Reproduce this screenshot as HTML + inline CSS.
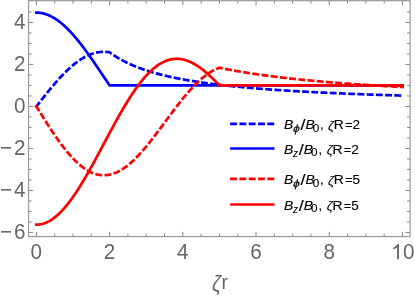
<!DOCTYPE html>
<html><head><meta charset="utf-8"><title>plot</title>
<style>
html,body{margin:0;padding:0;background:#fff;overflow:hidden;}
svg{display:block;font-family:"Liberation Sans",sans-serif;opacity:0.999;will-change:transform;}
</style></head>
<body>
<svg width="415" height="297" viewBox="0 0 415 297">
<rect width="415" height="297" fill="#fff"/>
<g fill="none" stroke-width="2.7" stroke-linejoin="miter" stroke-miterlimit="6" stroke-linecap="square">
<polyline points="36.40,106.43 37.32,105.26 38.23,104.09 39.15,102.92 40.06,101.75 40.98,100.58 41.89,99.42 42.81,98.25 43.72,97.10 44.64,95.94 45.55,94.80 46.47,93.65 47.38,92.52 48.30,91.39 49.21,90.27 50.13,89.15 51.04,88.04 51.96,86.95 52.87,85.86 53.79,84.78 54.70,83.71 55.62,82.65 56.53,81.60 57.45,80.56 58.36,79.54 59.28,78.53 60.19,77.53 61.11,76.54 62.02,75.57 62.94,74.61 63.86,73.67 64.77,72.75 65.69,71.83 66.60,70.94 67.52,70.06 68.43,69.20 69.35,68.35 70.26,67.53 71.18,66.72 72.09,65.93 73.01,65.16 73.92,64.40 74.84,63.67 75.75,62.96 76.67,62.26 77.58,61.59 78.50,60.94 79.41,60.30 80.33,59.69 81.24,59.10 82.16,58.54 83.07,57.99 83.99,57.47 84.90,56.97 85.82,56.49 86.73,56.03 87.65,55.60 88.56,55.19 89.48,54.80 90.40,54.44 91.31,54.10 92.23,53.78 93.14,53.49 94.06,53.22 94.97,52.98 95.89,52.76 96.80,52.56 97.72,52.39 98.63,52.24 99.55,52.11 100.46,52.01 101.38,51.94 102.29,51.89 103.21,51.86 104.12,51.86 105.04,51.88 105.95,51.92 106.87,51.99 107.78,52.08 108.70,52.20 109.61,52.34 110.53,53.00 111.44,53.66 112.36,54.29 113.27,54.91 114.19,55.52 115.11,56.11 116.02,56.69 116.94,57.25 117.85,57.81 118.77,58.35 119.68,58.87 120.60,59.39 121.51,59.90 122.43,60.39 123.34,60.88 124.26,61.35 125.17,61.82 126.09,62.27 127.00,62.72 127.92,63.15 128.83,63.58 129.75,64.00 130.66,64.41 131.58,64.82 132.49,65.22 133.41,65.60 134.32,65.99 135.24,66.36 136.15,66.73 137.07,67.09 137.98,67.44 138.90,67.79 139.81,68.13 140.73,68.47 141.65,68.80 142.56,69.12 143.48,69.44 144.39,69.76 145.31,70.06 146.22,70.37 147.14,70.67 148.05,70.96 148.97,71.25 149.88,71.53 150.80,71.81 151.71,72.08 152.63,72.35 153.54,72.62 154.46,72.88 155.37,73.14 156.29,73.40 157.20,73.65 158.12,73.89 159.03,74.13 159.95,74.37 160.86,74.61 161.78,74.84 162.69,75.07 163.61,75.30 164.52,75.52 165.44,75.74 166.35,75.95 167.27,76.17 168.19,76.38 169.10,76.58 170.02,76.79 170.93,76.99 171.85,77.19 172.76,77.39 173.68,77.58 174.59,77.77 175.51,77.96 176.42,78.15 177.34,78.33 178.25,78.51 179.17,78.69 180.08,78.87 181.00,79.04 181.91,79.21 182.83,79.38 183.74,79.55 184.66,79.72 185.57,79.88 186.49,80.04 187.40,80.20 188.32,80.36 189.23,80.52 190.15,80.67 191.06,80.82 191.98,80.97 192.89,81.12 193.81,81.27 194.73,81.42 195.64,81.56 196.56,81.70 197.47,81.84 198.39,81.98 199.30,82.12 200.22,82.25 201.13,82.39 202.05,82.52 202.96,82.65 203.88,82.78 204.79,82.91 205.71,83.04 206.62,83.16 207.54,83.29 208.45,83.41 209.37,83.53 210.28,83.65 211.20,83.77 212.11,83.89 213.03,84.01 213.94,84.12 214.86,84.24 215.77,84.35 216.69,84.46 217.60,84.57 218.52,84.68 219.44,84.79 220.35,84.90 221.27,85.01 222.18,85.11 223.10,85.22 224.01,85.32 224.93,85.42 225.84,85.52 226.76,85.62 227.67,85.72 228.59,85.82 229.50,85.92 230.42,86.02 231.33,86.11 232.25,86.21 233.16,86.30 234.08,86.40 234.99,86.49 235.91,86.58 236.82,86.67 237.74,86.76 238.65,86.85 239.57,86.94 240.48,87.02 241.40,87.11 242.31,87.20 243.23,87.28 244.14,87.37 245.06,87.45 245.98,87.53 246.89,87.61 247.81,87.70 248.72,87.78 249.64,87.86 250.55,87.94 251.47,88.01 252.38,88.09 253.30,88.17 254.21,88.25 255.13,88.32 256.04,88.40 256.96,88.47 257.87,88.55 258.79,88.62 259.70,88.69 260.62,88.77 261.53,88.84 262.45,88.91 263.36,88.98 264.28,89.05 265.19,89.12 266.11,89.19 267.02,89.26 267.94,89.33 268.85,89.39 269.77,89.46 270.68,89.53 271.60,89.59 272.52,89.66 273.43,89.72 274.35,89.79 275.26,89.85 276.18,89.91 277.09,89.98 278.01,90.04 278.92,90.10 279.84,90.16 280.75,90.22 281.67,90.28 282.58,90.34 283.50,90.40 284.41,90.46 285.33,90.52 286.24,90.58 287.16,90.64 288.07,90.69 288.99,90.75 289.90,90.81 290.82,90.86 291.73,90.92 292.65,90.97 293.56,91.03 294.48,91.08 295.39,91.14 296.31,91.19 297.22,91.25 298.14,91.30 299.06,91.35 299.97,91.40 300.89,91.46 301.80,91.51 302.72,91.56 303.63,91.61 304.55,91.66 305.46,91.71 306.38,91.76 307.29,91.81 308.21,91.86 309.12,91.91 310.04,91.96 310.95,92.00 311.87,92.05 312.78,92.10 313.70,92.15 314.61,92.19 315.53,92.24 316.44,92.29 317.36,92.33 318.27,92.38 319.19,92.42 320.10,92.47 321.02,92.52 321.93,92.56 322.85,92.60 323.76,92.65 324.68,92.69 325.60,92.74 326.51,92.78 327.43,92.82 328.34,92.86 329.26,92.91 330.17,92.95 331.09,92.99 332.00,93.03 332.92,93.07 333.83,93.11 334.75,93.16 335.66,93.20 336.58,93.24 337.49,93.28 338.41,93.32 339.32,93.36 340.24,93.40 341.15,93.43 342.07,93.47 342.98,93.51 343.90,93.55 344.81,93.59 345.73,93.63 346.64,93.66 347.56,93.70 348.47,93.74 349.39,93.78 350.31,93.81 351.22,93.85 352.14,93.89 353.05,93.92 353.97,93.96 354.88,93.99 355.80,94.03 356.71,94.07 357.63,94.10 358.54,94.14 359.46,94.17 360.37,94.21 361.29,94.24 362.20,94.27 363.12,94.31 364.03,94.34 364.95,94.38 365.86,94.41 366.78,94.44 367.69,94.48 368.61,94.51 369.52,94.54 370.44,94.57 371.35,94.61 372.27,94.64 373.18,94.67 374.10,94.70 375.01,94.73 375.93,94.77 376.85,94.80 377.76,94.83 378.68,94.86 379.59,94.89 380.51,94.92 381.42,94.95 382.34,94.98 383.25,95.01 384.17,95.04 385.08,95.07 386.00,95.10 386.91,95.13 387.83,95.16 388.74,95.19 389.66,95.22 390.57,95.25 391.49,95.28 392.40,95.31 393.32,95.33 394.23,95.36 395.15,95.39 396.06,95.42 396.98,95.45 397.89,95.47 398.81,95.50 399.72,95.53 400.64,95.56 401.55,95.58 402.47,95.61" stroke="#0000ff" stroke-dasharray="4.2 5.03" />
<polyline points="36.40,12.63 37.32,12.65 38.23,12.69 39.15,12.77 40.06,12.87 40.98,13.00 41.89,13.16 42.81,13.35 43.72,13.57 44.64,13.82 45.55,14.09 46.47,14.40 47.38,14.73 48.30,15.09 49.21,15.48 50.13,15.90 51.04,16.35 51.96,16.82 52.87,17.32 53.79,17.85 54.70,18.41 55.62,18.99 56.53,19.59 57.45,20.23 58.36,20.89 59.28,21.57 60.19,22.28 61.11,23.02 62.02,23.78 62.94,24.56 63.86,25.37 64.77,26.20 65.69,27.05 66.60,27.93 67.52,28.83 68.43,29.75 69.35,30.69 70.26,31.65 71.18,32.63 72.09,33.64 73.01,34.66 73.92,35.70 74.84,36.76 75.75,37.84 76.67,38.93 77.58,40.05 78.50,41.17 79.41,42.32 80.33,43.48 81.24,44.66 82.16,45.85 83.07,47.05 83.99,48.27 84.90,49.50 85.82,50.74 86.73,52.00 87.65,53.26 88.56,54.54 89.48,55.82 90.40,57.12 91.31,58.42 92.23,59.74 93.14,61.05 94.06,62.38 94.97,63.72 95.89,65.05 96.80,66.40 97.72,67.75 98.63,69.10 99.55,70.46 100.46,71.82 101.38,73.18 102.29,74.54 103.21,75.90 104.12,77.27 105.04,78.63 105.95,80.00 106.87,81.36 107.78,82.72 108.70,84.08 109.61,85.43 110.53,85.43 111.44,85.43 112.36,85.43 113.27,85.43 114.19,85.43 115.11,85.43 116.02,85.43 116.94,85.43 117.85,85.43 118.77,85.43 119.68,85.43 120.60,85.43 121.51,85.43 122.43,85.43 123.34,85.43 124.26,85.43 125.17,85.43 126.09,85.43 127.00,85.43 127.92,85.43 128.83,85.43 129.75,85.43 130.66,85.43 131.58,85.43 132.49,85.43 133.41,85.43 134.32,85.43 135.24,85.43 136.15,85.43 137.07,85.43 137.98,85.43 138.90,85.43 139.81,85.43 140.73,85.43 141.65,85.43 142.56,85.43 143.48,85.43 144.39,85.43 145.31,85.43 146.22,85.43 147.14,85.43 148.05,85.43 148.97,85.43 149.88,85.43 150.80,85.43 151.71,85.43 152.63,85.43 153.54,85.43 154.46,85.43 155.37,85.43 156.29,85.43 157.20,85.43 158.12,85.43 159.03,85.43 159.95,85.43 160.86,85.43 161.78,85.43 162.69,85.43 163.61,85.43 164.52,85.43 165.44,85.43 166.35,85.43 167.27,85.43 168.19,85.43 169.10,85.43 170.02,85.43 170.93,85.43 171.85,85.43 172.76,85.43 173.68,85.43 174.59,85.43 175.51,85.43 176.42,85.43 177.34,85.43 178.25,85.43 179.17,85.43 180.08,85.43 181.00,85.43 181.91,85.43 182.83,85.43 183.74,85.43 184.66,85.43 185.57,85.43 186.49,85.43 187.40,85.43 188.32,85.43 189.23,85.43 190.15,85.43 191.06,85.43 191.98,85.43 192.89,85.43 193.81,85.43 194.73,85.43 195.64,85.43 196.56,85.43 197.47,85.43 198.39,85.43 199.30,85.43 200.22,85.43 201.13,85.43 202.05,85.43 202.96,85.43 203.88,85.43 204.79,85.43 205.71,85.43 206.62,85.43 207.54,85.43 208.45,85.43 209.37,85.43 210.28,85.43 211.20,85.43 212.11,85.43 213.03,85.43 213.94,85.43 214.86,85.43 215.77,85.43 216.69,85.43 217.60,85.43 218.52,85.43 219.44,85.43 220.35,85.43 221.27,85.43 222.18,85.43 223.10,85.43 224.01,85.43 224.93,85.43 225.84,85.43 226.76,85.43 227.67,85.43 228.59,85.43 229.50,85.43 230.42,85.43 231.33,85.43 232.25,85.43 233.16,85.43 234.08,85.43 234.99,85.43 235.91,85.43 236.82,85.43 237.74,85.43 238.65,85.43 239.57,85.43 240.48,85.43 241.40,85.43 242.31,85.43 243.23,85.43 244.14,85.43 245.06,85.43 245.98,85.43 246.89,85.43 247.81,85.43 248.72,85.43 249.64,85.43 250.55,85.43 251.47,85.43 252.38,85.43 253.30,85.43 254.21,85.43 255.13,85.43 256.04,85.43 256.96,85.43 257.87,85.43 258.79,85.43 259.70,85.43 260.62,85.43 261.53,85.43 262.45,85.43 263.36,85.43 264.28,85.43 265.19,85.43 266.11,85.43 267.02,85.43 267.94,85.43 268.85,85.43 269.77,85.43 270.68,85.43 271.60,85.43 272.52,85.43 273.43,85.43 274.35,85.43 275.26,85.43 276.18,85.43 277.09,85.43 278.01,85.43 278.92,85.43 279.84,85.43 280.75,85.43 281.67,85.43 282.58,85.43 283.50,85.43 284.41,85.43 285.33,85.43 286.24,85.43 287.16,85.43 288.07,85.43 288.99,85.43 289.90,85.43 290.82,85.43 291.73,85.43 292.65,85.43 293.56,85.43 294.48,85.43 295.39,85.43 296.31,85.43 297.22,85.43 298.14,85.43 299.06,85.43 299.97,85.43 300.89,85.43 301.80,85.43 302.72,85.43 303.63,85.43 304.55,85.43 305.46,85.43 306.38,85.43 307.29,85.43 308.21,85.43 309.12,85.43 310.04,85.43 310.95,85.43 311.87,85.43 312.78,85.43 313.70,85.43 314.61,85.43 315.53,85.43 316.44,85.43 317.36,85.43 318.27,85.43 319.19,85.43 320.10,85.43 321.02,85.43 321.93,85.43 322.85,85.43 323.76,85.43 324.68,85.43 325.60,85.43 326.51,85.43 327.43,85.43 328.34,85.43 329.26,85.43 330.17,85.43 331.09,85.43 332.00,85.43 332.92,85.43 333.83,85.43 334.75,85.43 335.66,85.43 336.58,85.43 337.49,85.43 338.41,85.43 339.32,85.43 340.24,85.43 341.15,85.43 342.07,85.43 342.98,85.43 343.90,85.43 344.81,85.43 345.73,85.43 346.64,85.43 347.56,85.43 348.47,85.43 349.39,85.43 350.31,85.43 351.22,85.43 352.14,85.43 353.05,85.43 353.97,85.43 354.88,85.43 355.80,85.43 356.71,85.43 357.63,85.43 358.54,85.43 359.46,85.43 360.37,85.43 361.29,85.43 362.20,85.43 363.12,85.43 364.03,85.43 364.95,85.43 365.86,85.43 366.78,85.43 367.69,85.43 368.61,85.43 369.52,85.43 370.44,85.43 371.35,85.43 372.27,85.43 373.18,85.43 374.10,85.43 375.01,85.43 375.93,85.43 376.85,85.43 377.76,85.43 378.68,85.43 379.59,85.43 380.51,85.43 381.42,85.43 382.34,85.43 383.25,85.43 384.17,85.43 385.08,85.43 386.00,85.43 386.91,85.43 387.83,85.43 388.74,85.43 389.66,85.43 390.57,85.43 391.49,85.43 392.40,85.43 393.32,85.43 394.23,85.43 395.15,85.43 396.06,85.43 396.98,85.43 397.89,85.43 398.81,85.43 399.72,85.43 400.64,85.43 401.55,85.43 402.47,85.43" stroke="#0000ff" />
<polyline points="36.40,106.43 37.32,107.91 38.23,109.39 39.15,110.86 40.06,112.33 40.98,113.81 41.89,115.27 42.81,116.74 43.72,118.20 44.64,119.65 45.55,121.10 46.47,122.54 47.38,123.97 48.30,125.39 49.21,126.81 50.13,128.21 51.04,129.61 51.96,130.99 52.87,132.37 53.79,133.73 54.70,135.08 55.62,136.41 56.53,137.73 57.45,139.04 58.36,140.33 59.28,141.61 60.19,142.87 61.11,144.11 62.02,145.33 62.94,146.54 63.86,147.73 64.77,148.90 65.69,150.04 66.60,151.17 67.52,152.28 68.43,153.37 69.35,154.43 70.26,155.47 71.18,156.49 72.09,157.49 73.01,158.46 73.92,159.41 74.84,160.34 75.75,161.24 76.67,162.11 77.58,162.96 78.50,163.78 79.41,164.58 80.33,165.35 81.24,166.09 82.16,166.81 83.07,167.50 83.99,168.16 84.90,168.79 85.82,169.39 86.73,169.97 87.65,170.51 88.56,171.03 89.48,171.52 90.40,171.98 91.31,172.40 92.23,172.80 93.14,173.17 94.06,173.51 94.97,173.82 95.89,174.10 96.80,174.34 97.72,174.56 98.63,174.75 99.55,174.90 100.46,175.03 101.38,175.13 102.29,175.19 103.21,175.23 104.12,175.23 105.04,175.21 105.95,175.15 106.87,175.06 107.78,174.95 108.70,174.80 109.61,174.63 110.53,174.42 111.44,174.18 112.36,173.92 113.27,173.63 114.19,173.31 115.11,172.96 116.02,172.58 116.94,172.17 117.85,171.74 118.77,171.27 119.68,170.78 120.60,170.27 121.51,169.72 122.43,169.16 123.34,168.56 124.26,167.94 125.17,167.29 126.09,166.62 127.00,165.93 127.92,165.21 128.83,164.47 129.75,163.70 130.66,162.91 131.58,162.10 132.49,161.27 133.41,160.42 134.32,159.54 135.24,158.65 136.15,157.73 137.07,156.80 137.98,155.85 138.90,154.88 139.81,153.89 140.73,152.88 141.65,151.86 142.56,150.82 143.48,149.77 144.39,148.70 145.31,147.62 146.22,146.52 147.14,145.41 148.05,144.29 148.97,143.16 149.88,142.01 150.80,140.86 151.71,139.69 152.63,138.52 153.54,137.33 154.46,136.14 155.37,134.94 156.29,133.73 157.20,132.52 158.12,131.30 159.03,130.08 159.95,128.85 160.86,127.62 161.78,126.39 162.69,125.15 163.61,123.91 164.52,122.67 165.44,121.43 166.35,120.19 167.27,118.96 168.19,117.72 169.10,116.48 170.02,115.25 170.93,114.02 171.85,112.80 172.76,111.57 173.68,110.36 174.59,109.15 175.51,107.95 176.42,106.75 177.34,105.56 178.25,104.38 179.17,103.21 180.08,102.05 181.00,100.89 181.91,99.75 182.83,98.62 183.74,97.50 184.66,96.39 185.57,95.30 186.49,94.22 187.40,93.15 188.32,92.10 189.23,91.06 190.15,90.04 191.06,89.03 191.98,88.04 192.89,87.06 193.81,86.10 194.73,85.16 195.64,84.24 196.56,83.34 197.47,82.45 198.39,81.59 199.30,80.74 200.22,79.91 201.13,79.11 202.05,78.32 202.96,77.56 203.88,76.82 204.79,76.09 205.71,75.39 206.62,74.72 207.54,74.06 208.45,73.43 209.37,72.82 210.28,72.23 211.20,71.67 212.11,71.13 213.03,70.62 213.94,70.13 214.86,69.66 215.77,69.22 216.69,68.80 217.60,68.41 218.52,68.04 219.44,67.70 220.35,67.89 221.27,68.08 222.18,68.27 223.10,68.45 224.01,68.64 224.93,68.82 225.84,69.01 226.76,69.19 227.67,69.36 228.59,69.54 229.50,69.71 230.42,69.89 231.33,70.06 232.25,70.23 233.16,70.40 234.08,70.56 234.99,70.73 235.91,70.89 236.82,71.06 237.74,71.22 238.65,71.38 239.57,71.53 240.48,71.69 241.40,71.85 242.31,72.00 243.23,72.15 244.14,72.30 245.06,72.45 245.98,72.60 246.89,72.75 247.81,72.89 248.72,73.04 249.64,73.18 250.55,73.32 251.47,73.46 252.38,73.60 253.30,73.74 254.21,73.88 255.13,74.02 256.04,74.15 256.96,74.29 257.87,74.42 258.79,74.55 259.70,74.68 260.62,74.81 261.53,74.94 262.45,75.07 263.36,75.19 264.28,75.32 265.19,75.44 266.11,75.57 267.02,75.69 267.94,75.81 268.85,75.93 269.77,76.05 270.68,76.17 271.60,76.29 272.52,76.40 273.43,76.52 274.35,76.63 275.26,76.75 276.18,76.86 277.09,76.97 278.01,77.09 278.92,77.20 279.84,77.31 280.75,77.42 281.67,77.52 282.58,77.63 283.50,77.74 284.41,77.84 285.33,77.95 286.24,78.05 287.16,78.16 288.07,78.26 288.99,78.36 289.90,78.46 290.82,78.56 291.73,78.66 292.65,78.76 293.56,78.86 294.48,78.96 295.39,79.06 296.31,79.15 297.22,79.25 298.14,79.34 299.06,79.44 299.97,79.53 300.89,79.62 301.80,79.72 302.72,79.81 303.63,79.90 304.55,79.99 305.46,80.08 306.38,80.17 307.29,80.26 308.21,80.35 309.12,80.43 310.04,80.52 310.95,80.61 311.87,80.69 312.78,80.78 313.70,80.86 314.61,80.95 315.53,81.03 316.44,81.11 317.36,81.20 318.27,81.28 319.19,81.36 320.10,81.44 321.02,81.52 321.93,81.60 322.85,81.68 323.76,81.76 324.68,81.84 325.60,81.91 326.51,81.99 327.43,82.07 328.34,82.14 329.26,82.22 330.17,82.30 331.09,82.37 332.00,82.45 332.92,82.52 333.83,82.59 334.75,82.67 335.66,82.74 336.58,82.81 337.49,82.88 338.41,82.95 339.32,83.03 340.24,83.10 341.15,83.17 342.07,83.24 342.98,83.30 343.90,83.37 344.81,83.44 345.73,83.51 346.64,83.58 347.56,83.64 348.47,83.71 349.39,83.78 350.31,83.84 351.22,83.91 352.14,83.98 353.05,84.04 353.97,84.10 354.88,84.17 355.80,84.23 356.71,84.30 357.63,84.36 358.54,84.42 359.46,84.48 360.37,84.55 361.29,84.61 362.20,84.67 363.12,84.73 364.03,84.79 364.95,84.85 365.86,84.91 366.78,84.97 367.69,85.03 368.61,85.09 369.52,85.15 370.44,85.21 371.35,85.26 372.27,85.32 373.18,85.38 374.10,85.44 375.01,85.49 375.93,85.55 376.85,85.60 377.76,85.66 378.68,85.72 379.59,85.77 380.51,85.83 381.42,85.88 382.34,85.94 383.25,85.99 384.17,86.04 385.08,86.10 386.00,86.15 386.91,86.20 387.83,86.26 388.74,86.31 389.66,86.36 390.57,86.41 391.49,86.46 392.40,86.51 393.32,86.57 394.23,86.62 395.15,86.67 396.06,86.72 396.98,86.77 397.89,86.82 398.81,86.87 399.72,86.92 400.64,86.97 401.55,87.01 402.47,87.06" stroke="#ff0000" stroke-dasharray="4.2 5.057" />
<polyline points="36.40,224.68 37.32,224.66 38.23,224.60 39.15,224.51 40.06,224.38 40.98,224.21 41.89,224.01 42.81,223.77 43.72,223.50 44.64,223.18 45.55,222.84 46.47,222.45 47.38,222.03 48.30,221.57 49.21,221.08 50.13,220.55 51.04,219.99 51.96,219.40 52.87,218.76 53.79,218.10 54.70,217.40 55.62,216.67 56.53,215.90 57.45,215.10 58.36,214.27 59.28,213.41 60.19,212.51 61.11,211.59 62.02,210.63 62.94,209.64 63.86,208.62 64.77,207.58 65.69,206.50 66.60,205.40 67.52,204.26 68.43,203.10 69.35,201.92 70.26,200.70 71.18,199.46 72.09,198.20 73.01,196.91 73.92,195.60 74.84,194.26 75.75,192.90 76.67,191.52 77.58,190.12 78.50,188.70 79.41,187.25 80.33,185.79 81.24,184.31 82.16,182.81 83.07,181.29 83.99,179.75 84.90,178.20 85.82,176.63 86.73,175.05 87.65,173.46 88.56,171.85 89.48,170.23 90.40,168.60 91.31,166.95 92.23,165.30 93.14,163.63 94.06,161.96 94.97,160.28 95.89,158.59 96.80,156.90 97.72,155.20 98.63,153.49 99.55,151.78 100.46,150.07 101.38,148.35 102.29,146.63 103.21,144.91 104.12,143.19 105.04,141.47 105.95,139.75 106.87,138.04 107.78,136.32 108.70,134.61 109.61,132.90 110.53,131.20 111.44,129.50 112.36,127.81 113.27,126.13 114.19,124.45 115.11,122.79 116.02,121.13 116.94,119.48 117.85,117.84 118.77,116.21 119.68,114.60 120.60,113.00 121.51,111.41 122.43,109.83 123.34,108.27 124.26,106.73 125.17,105.20 126.09,103.68 127.00,102.19 127.92,100.71 128.83,99.25 129.75,97.81 130.66,96.39 131.58,94.98 132.49,93.60 133.41,92.24 134.32,90.90 135.24,89.59 136.15,88.29 137.07,87.02 137.98,85.77 138.90,84.55 139.81,83.35 140.73,82.18 141.65,81.03 142.56,79.91 143.48,78.81 144.39,77.74 145.31,76.70 146.22,75.68 147.14,74.69 148.05,73.73 148.97,72.80 149.88,71.89 150.80,71.02 151.71,70.17 152.63,69.36 153.54,68.57 154.46,67.81 155.37,67.08 156.29,66.39 157.20,65.72 158.12,65.08 159.03,64.47 159.95,63.90 160.86,63.35 161.78,62.84 162.69,62.36 163.61,61.90 164.52,61.48 165.44,61.09 166.35,60.73 167.27,60.40 168.19,60.11 169.10,59.84 170.02,59.60 170.93,59.40 171.85,59.22 172.76,59.08 173.68,58.97 174.59,58.88 175.51,58.83 176.42,58.81 177.34,58.81 178.25,58.85 179.17,58.92 180.08,59.01 181.00,59.14 181.91,59.29 182.83,59.47 183.74,59.68 184.66,59.92 185.57,60.18 186.49,60.47 187.40,60.79 188.32,61.14 189.23,61.51 190.15,61.90 191.06,62.33 191.98,62.77 192.89,63.25 193.81,63.74 194.73,64.26 195.64,64.81 196.56,65.37 197.47,65.96 198.39,66.57 199.30,67.20 200.22,67.85 201.13,68.53 202.05,69.22 202.96,69.93 203.88,70.66 204.79,71.41 205.71,72.18 206.62,72.96 207.54,73.77 208.45,74.58 209.37,75.42 210.28,76.26 211.20,77.13 212.11,78.00 213.03,78.89 213.94,79.79 214.86,80.70 215.77,81.63 216.69,82.56 217.60,83.51 218.52,84.47 219.44,85.43 220.35,85.43 221.27,85.43 222.18,85.43 223.10,85.43 224.01,85.43 224.93,85.43 225.84,85.43 226.76,85.43 227.67,85.43 228.59,85.43 229.50,85.43 230.42,85.43 231.33,85.43 232.25,85.43 233.16,85.43 234.08,85.43 234.99,85.43 235.91,85.43 236.82,85.43 237.74,85.43 238.65,85.43 239.57,85.43 240.48,85.43 241.40,85.43 242.31,85.43 243.23,85.43 244.14,85.43 245.06,85.43 245.98,85.43 246.89,85.43 247.81,85.43 248.72,85.43 249.64,85.43 250.55,85.43 251.47,85.43 252.38,85.43 253.30,85.43 254.21,85.43 255.13,85.43 256.04,85.43 256.96,85.43 257.87,85.43 258.79,85.43 259.70,85.43 260.62,85.43 261.53,85.43 262.45,85.43 263.36,85.43 264.28,85.43 265.19,85.43 266.11,85.43 267.02,85.43 267.94,85.43 268.85,85.43 269.77,85.43 270.68,85.43 271.60,85.43 272.52,85.43 273.43,85.43 274.35,85.43 275.26,85.43 276.18,85.43 277.09,85.43 278.01,85.43 278.92,85.43 279.84,85.43 280.75,85.43 281.67,85.43 282.58,85.43 283.50,85.43 284.41,85.43 285.33,85.43 286.24,85.43 287.16,85.43 288.07,85.43 288.99,85.43 289.90,85.43 290.82,85.43 291.73,85.43 292.65,85.43 293.56,85.43 294.48,85.43 295.39,85.43 296.31,85.43 297.22,85.43 298.14,85.43 299.06,85.43 299.97,85.43 300.89,85.43 301.80,85.43 302.72,85.43 303.63,85.43 304.55,85.43 305.46,85.43 306.38,85.43 307.29,85.43 308.21,85.43 309.12,85.43 310.04,85.43 310.95,85.43 311.87,85.43 312.78,85.43 313.70,85.43 314.61,85.43 315.53,85.43 316.44,85.43 317.36,85.43 318.27,85.43 319.19,85.43 320.10,85.43 321.02,85.43 321.93,85.43 322.85,85.43 323.76,85.43 324.68,85.43 325.60,85.43 326.51,85.43 327.43,85.43 328.34,85.43 329.26,85.43 330.17,85.43 331.09,85.43 332.00,85.43 332.92,85.43 333.83,85.43 334.75,85.43 335.66,85.43 336.58,85.43 337.49,85.43 338.41,85.43 339.32,85.43 340.24,85.43 341.15,85.43 342.07,85.43 342.98,85.43 343.90,85.43 344.81,85.43 345.73,85.43 346.64,85.43 347.56,85.43 348.47,85.43 349.39,85.43 350.31,85.43 351.22,85.43 352.14,85.43 353.05,85.43 353.97,85.43 354.88,85.43 355.80,85.43 356.71,85.43 357.63,85.43 358.54,85.43 359.46,85.43 360.37,85.43 361.29,85.43 362.20,85.43 363.12,85.43 364.03,85.43 364.95,85.43 365.86,85.43 366.78,85.43 367.69,85.43 368.61,85.43 369.52,85.43 370.44,85.43 371.35,85.43 372.27,85.43 373.18,85.43 374.10,85.43 375.01,85.43 375.93,85.43 376.85,85.43 377.76,85.43 378.68,85.43 379.59,85.43 380.51,85.43 381.42,85.43 382.34,85.43 383.25,85.43 384.17,85.43 385.08,85.43 386.00,85.43 386.91,85.43 387.83,85.43 388.74,85.43 389.66,85.43 390.57,85.43 391.49,85.43 392.40,85.43 393.32,85.43 394.23,85.43 395.15,85.43 396.06,85.43 396.98,85.43 397.89,85.43 398.81,85.43 399.72,85.43 400.64,85.43 401.55,85.43 402.47,85.43" stroke="#ff0000" />
</g>
<g stroke="#858585" stroke-width="1.0" fill="none">
<line x1="36.40" y1="236.6" x2="36.40" y2="231.9"/>
<line x1="36.40" y1="0.65" x2="36.40" y2="5.3500000000000005"/>
<line x1="54.70" y1="236.6" x2="54.70" y2="233.6"/>
<line x1="54.70" y1="0.65" x2="54.70" y2="3.65"/>
<line x1="73.01" y1="236.6" x2="73.01" y2="233.6"/>
<line x1="73.01" y1="0.65" x2="73.01" y2="3.65"/>
<line x1="91.31" y1="236.6" x2="91.31" y2="233.6"/>
<line x1="91.31" y1="0.65" x2="91.31" y2="3.65"/>
<line x1="109.61" y1="236.6" x2="109.61" y2="231.9"/>
<line x1="109.61" y1="0.65" x2="109.61" y2="5.3500000000000005"/>
<line x1="127.92" y1="236.6" x2="127.92" y2="233.6"/>
<line x1="127.92" y1="0.65" x2="127.92" y2="3.65"/>
<line x1="146.22" y1="236.6" x2="146.22" y2="233.6"/>
<line x1="146.22" y1="0.65" x2="146.22" y2="3.65"/>
<line x1="164.52" y1="236.6" x2="164.52" y2="233.6"/>
<line x1="164.52" y1="0.65" x2="164.52" y2="3.65"/>
<line x1="182.83" y1="236.6" x2="182.83" y2="231.9"/>
<line x1="182.83" y1="0.65" x2="182.83" y2="5.3500000000000005"/>
<line x1="201.13" y1="236.6" x2="201.13" y2="233.6"/>
<line x1="201.13" y1="0.65" x2="201.13" y2="3.65"/>
<line x1="219.44" y1="236.6" x2="219.44" y2="233.6"/>
<line x1="219.44" y1="0.65" x2="219.44" y2="3.65"/>
<line x1="237.74" y1="236.6" x2="237.74" y2="233.6"/>
<line x1="237.74" y1="0.65" x2="237.74" y2="3.65"/>
<line x1="256.04" y1="236.6" x2="256.04" y2="231.9"/>
<line x1="256.04" y1="0.65" x2="256.04" y2="5.3500000000000005"/>
<line x1="274.35" y1="236.6" x2="274.35" y2="233.6"/>
<line x1="274.35" y1="0.65" x2="274.35" y2="3.65"/>
<line x1="292.65" y1="236.6" x2="292.65" y2="233.6"/>
<line x1="292.65" y1="0.65" x2="292.65" y2="3.65"/>
<line x1="310.95" y1="236.6" x2="310.95" y2="233.6"/>
<line x1="310.95" y1="0.65" x2="310.95" y2="3.65"/>
<line x1="329.26" y1="236.6" x2="329.26" y2="231.9"/>
<line x1="329.26" y1="0.65" x2="329.26" y2="5.3500000000000005"/>
<line x1="347.56" y1="236.6" x2="347.56" y2="233.6"/>
<line x1="347.56" y1="0.65" x2="347.56" y2="3.65"/>
<line x1="365.86" y1="236.6" x2="365.86" y2="233.6"/>
<line x1="365.86" y1="0.65" x2="365.86" y2="3.65"/>
<line x1="384.17" y1="236.6" x2="384.17" y2="233.6"/>
<line x1="384.17" y1="0.65" x2="384.17" y2="3.65"/>
<line x1="402.47" y1="236.6" x2="402.47" y2="231.9"/>
<line x1="402.47" y1="0.65" x2="402.47" y2="5.3500000000000005"/>
<line x1="28.55" y1="232.43" x2="33.25" y2="232.43"/>
<line x1="410.1" y1="232.43" x2="405.40000000000003" y2="232.43"/>
<line x1="28.55" y1="221.93" x2="31.55" y2="221.93"/>
<line x1="410.1" y1="221.93" x2="407.1" y2="221.93"/>
<line x1="28.55" y1="211.43" x2="31.55" y2="211.43"/>
<line x1="410.1" y1="211.43" x2="407.1" y2="211.43"/>
<line x1="28.55" y1="200.93" x2="31.55" y2="200.93"/>
<line x1="410.1" y1="200.93" x2="407.1" y2="200.93"/>
<line x1="28.55" y1="190.43" x2="33.25" y2="190.43"/>
<line x1="410.1" y1="190.43" x2="405.40000000000003" y2="190.43"/>
<line x1="28.55" y1="179.93" x2="31.55" y2="179.93"/>
<line x1="410.1" y1="179.93" x2="407.1" y2="179.93"/>
<line x1="28.55" y1="169.43" x2="31.55" y2="169.43"/>
<line x1="410.1" y1="169.43" x2="407.1" y2="169.43"/>
<line x1="28.55" y1="158.93" x2="31.55" y2="158.93"/>
<line x1="410.1" y1="158.93" x2="407.1" y2="158.93"/>
<line x1="28.55" y1="148.43" x2="33.25" y2="148.43"/>
<line x1="410.1" y1="148.43" x2="405.40000000000003" y2="148.43"/>
<line x1="28.55" y1="137.93" x2="31.55" y2="137.93"/>
<line x1="410.1" y1="137.93" x2="407.1" y2="137.93"/>
<line x1="28.55" y1="127.43" x2="31.55" y2="127.43"/>
<line x1="410.1" y1="127.43" x2="407.1" y2="127.43"/>
<line x1="28.55" y1="116.93" x2="31.55" y2="116.93"/>
<line x1="410.1" y1="116.93" x2="407.1" y2="116.93"/>
<line x1="28.55" y1="106.43" x2="33.25" y2="106.43"/>
<line x1="410.1" y1="106.43" x2="405.40000000000003" y2="106.43"/>
<line x1="28.55" y1="95.93" x2="31.55" y2="95.93"/>
<line x1="410.1" y1="95.93" x2="407.1" y2="95.93"/>
<line x1="28.55" y1="85.43" x2="31.55" y2="85.43"/>
<line x1="410.1" y1="85.43" x2="407.1" y2="85.43"/>
<line x1="28.55" y1="74.93" x2="31.55" y2="74.93"/>
<line x1="410.1" y1="74.93" x2="407.1" y2="74.93"/>
<line x1="28.55" y1="64.43" x2="33.25" y2="64.43"/>
<line x1="410.1" y1="64.43" x2="405.40000000000003" y2="64.43"/>
<line x1="28.55" y1="53.93" x2="31.55" y2="53.93"/>
<line x1="410.1" y1="53.93" x2="407.1" y2="53.93"/>
<line x1="28.55" y1="43.43" x2="31.55" y2="43.43"/>
<line x1="410.1" y1="43.43" x2="407.1" y2="43.43"/>
<line x1="28.55" y1="32.93" x2="31.55" y2="32.93"/>
<line x1="410.1" y1="32.93" x2="407.1" y2="32.93"/>
<line x1="28.55" y1="22.43" x2="33.25" y2="22.43"/>
<line x1="410.1" y1="22.43" x2="405.40000000000003" y2="22.43"/>
<line x1="28.55" y1="11.93" x2="31.55" y2="11.93"/>
<line x1="410.1" y1="11.93" x2="407.1" y2="11.93"/>
</g>
<rect x="28.55" y="0.65" width="381.55" height="235.95" fill="none" stroke="#9a9a9a" stroke-width="1.2"/>
<g fill="#666666" font-size="21.5">
<text transform="translate(36.30,259.2) scale(0.96,1)" text-anchor="middle">0</text>
<text transform="translate(109.51,259.2) scale(0.96,1)" text-anchor="middle">2</text>
<text transform="translate(182.73,259.2) scale(0.96,1)" text-anchor="middle">4</text>
<text transform="translate(255.94,259.2) scale(0.96,1)" text-anchor="middle">6</text>
<text transform="translate(329.16,259.2) scale(0.96,1)" text-anchor="middle">8</text>
<path transform="translate(391.0,259.2) scale(0.01050,-0.01050)" d="M763 0H583V1147Q518 1085 412.5 1023Q307 961 223 930V1104Q374 1175 487 1276Q600 1377 647 1472H763Z"/>
<text transform="translate(403.0,259.2) scale(0.96,1)">0</text>
<text transform="translate(25.4,29.43) scale(0.96,1)" text-anchor="end">4</text>
<text transform="translate(25.4,71.43) scale(0.96,1)" text-anchor="end">2</text>
<text transform="translate(25.4,113.43) scale(0.96,1)" text-anchor="end">0</text>
<text transform="translate(25.4,155.43) scale(0.96,1)" text-anchor="end">−<tspan dx="2.0">2</tspan></text>
<text transform="translate(25.4,197.43) scale(0.96,1)" text-anchor="end">−<tspan dx="2.0">4</tspan></text>
<text transform="translate(25.4,239.43) scale(0.96,1)" text-anchor="end">−<tspan dx="2.0">6</tspan></text>
<text transform="translate(212.0,290.9) scale(0.9,1)" font-size="21.6" font-style="italic">ζ</text>
<text x="221.6" y="289.3" font-size="19.6">r</text>
</g>
<g fill="#000" font-size="13.0" stroke="#000" stroke-width="0.12">
<line x1="231.5" y1="123.9" x2="273.1" y2="123.9" stroke="#0000ff" stroke-width="2.7" stroke-linecap="square" stroke-dasharray="4.2 5.1"/>
<text transform="translate(284.00,128.90) scale(1.07,1)" font-style="italic">B</text>
<text transform="translate(292.60,132.30) scale(1.12,1) skewX(-12)" stroke="#000" stroke-width="0.25" font-size="10.5">ϕ</text>
<text transform="translate(300.50,129.90) scale(1.2,1)" font-size="15">/</text>
<text transform="translate(305.50,128.90) scale(1.07,1)" font-style="italic">B</text>
<text transform="translate(312.70,131.85)" font-size="11.7">0</text>
<text transform="translate(320.10,128.90)">,</text>
<text transform="translate(328.00,129.50)" font-style="italic">ζ</text>
<text transform="translate(333.80,128.90) scale(1.07,1)">R</text>
<text transform="translate(345.00,128.90)">=</text>
<text transform="translate(352.60,128.90) scale(1.04,1)">2</text>
<line x1="231.5" y1="148.5" x2="273.1" y2="148.5" stroke="#0000ff" stroke-width="2.7" stroke-linecap="square"/>
<text transform="translate(284.00,153.50) scale(1.07,1)" font-style="italic">B</text>
<text transform="translate(293.00,156.50)" font-size="10" font-style="italic">z</text>
<text transform="translate(298.80,154.50) scale(1.2,1)" font-size="15">/</text>
<text transform="translate(303.80,153.50) scale(1.07,1)" font-style="italic">B</text>
<text transform="translate(311.00,156.45)" font-size="11.7">0</text>
<text transform="translate(318.40,153.50)">,</text>
<text transform="translate(326.70,154.10)" font-style="italic">ζ</text>
<text transform="translate(332.50,153.50) scale(1.07,1)">R</text>
<text transform="translate(343.70,153.50)">=</text>
<text transform="translate(351.30,153.50) scale(1.04,1)">2</text>
<line x1="231.5" y1="178.9" x2="273.1" y2="178.9" stroke="#ff0000" stroke-width="2.7" stroke-linecap="square" stroke-dasharray="4.2 5.1"/>
<text transform="translate(284.00,183.90) scale(1.07,1)" font-style="italic">B</text>
<text transform="translate(292.60,187.30) scale(1.12,1) skewX(-12)" stroke="#000" stroke-width="0.25" font-size="10.5">ϕ</text>
<text transform="translate(300.50,184.90) scale(1.2,1)" font-size="15">/</text>
<text transform="translate(305.50,183.90) scale(1.07,1)" font-style="italic">B</text>
<text transform="translate(312.70,186.85)" font-size="11.7">0</text>
<text transform="translate(320.10,183.90)">,</text>
<text transform="translate(328.00,184.50)" font-style="italic">ζ</text>
<text transform="translate(333.80,183.90) scale(1.07,1)">R</text>
<text transform="translate(345.00,183.90)">=</text>
<text transform="translate(352.60,183.90) scale(1.04,1)">5</text>
<line x1="231.5" y1="204.5" x2="273.1" y2="204.5" stroke="#ff0000" stroke-width="2.7" stroke-linecap="square"/>
<text transform="translate(284.00,209.50) scale(1.07,1)" font-style="italic">B</text>
<text transform="translate(293.00,212.50)" font-size="10" font-style="italic">z</text>
<text transform="translate(298.80,210.50) scale(1.2,1)" font-size="15">/</text>
<text transform="translate(303.80,209.50) scale(1.07,1)" font-style="italic">B</text>
<text transform="translate(311.00,212.45)" font-size="11.7">0</text>
<text transform="translate(318.40,209.50)">,</text>
<text transform="translate(326.70,210.10)" font-style="italic">ζ</text>
<text transform="translate(332.50,209.50) scale(1.07,1)">R</text>
<text transform="translate(343.70,209.50)">=</text>
<text transform="translate(351.30,209.50) scale(1.04,1)">5</text>
</g>
</svg>
</body></html>
